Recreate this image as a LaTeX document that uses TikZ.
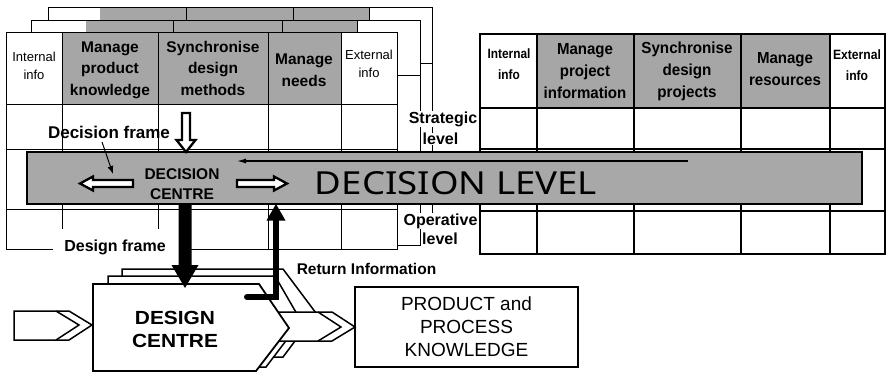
\documentclass[tikz,border=0pt]{standalone}
\usepackage{fontspec}
\usepackage{graphicx}
\setmainfont{Liberation Sans}
\newfontfamily\decfont{Noto Sans}
\usetikzlibrary{arrows.meta}
\definecolor{hdrgray}{HTML}{A6A6A6}
\definecolor{bargray}{HTML}{A8A8A8}
\newcommand\sqz[2]{\scalebox{#1}[1]{\begin{tabular}{@{}c@{}}#2\end{tabular}}}
\begin{document}
\begin{tikzpicture}[x=1pt,y=-1pt,
  fline/.style={draw=black, line width=0.8pt},
  tline/.style={draw=black, line width=1.6pt},
  hdr/.style={font=\bfseries\fontsize{15.5}{21.5}\selectfont, align=center, inner sep=0pt},
  sml/.style={font=\fontsize{13}{18}\selectfont, align=center, inner sep=0pt},
  rhdr/.style={font=\bfseries\fontsize{16}{22}\selectfont, inner sep=0pt},
  rsml/.style={font=\bfseries\fontsize{13.5}{20.5}\selectfont, inner sep=0pt},
  lvl/.style={font=\bfseries\fontsize{16}{18}\selectfont, fill=white, inner sep=0.6pt},
  blk/.style={fill=white, draw=black, line width=2.3pt, line join=miter},
  dshape/.style={fill=white, draw=black, line width=1.5pt, line join=miter},
  lbl/.style={font=\bfseries\fontsize{16}{20}\selectfont, inner sep=0pt},
]
\useasboundingbox (0,0) rectangle (886,373);

% ---- back frame 3
\fill[white] (48,7) rectangle (432,220);
\fill[hdrgray] (100,7) rectangle (369,63);
\draw[fline] (48,7) rectangle (432,220);
\draw[fline] (48,63) -- (432,63) (186,7) -- (186,63) (293,7) -- (293,63) (369,7) -- (369,63);
% ---- back frame 2
\fill[white] (31,20) rectangle (420,245);
\fill[hdrgray] (86,20) rectangle (357,75);
\draw[fline] (31,20) rectangle (420,245);
\draw[fline] (31,75) -- (420,75) (173,20) -- (173,75) (282,20) -- (282,75) (357,20) -- (357,75);
% ---- front frame (design frame)
\fill[white] (6,32) rectangle (397,249);
\fill[hdrgray] (62,32) rectangle (341,104);
\draw[fline] (53,249) -- (6,249) -- (6,32) -- (397,32) -- (397,249) -- (180,249);
\draw[fline] (6,104) -- (397,104) (6,149) -- (397,149) (6,209) -- (397,209);
\draw[fline] (62,32) -- (62,229) (158,32) -- (158,229) (268,32) -- (268,249) (341,32) -- (341,249);

\node[sml] (li) at (34,66) {Internal\\info};
\node[hdr] (lm) at (110,70) {Manage\\product\\knowledge};
\node[hdr] (ls) at (213,68) {Synchronise\\design\\methods};
\node[hdr] (ln) at (304,70) {Manage\\needs};
\node[sml] (le) at (369,64) {External\\info};

% ---- right table
\fill[hdrgray] (537,34) rectangle (830,108);
\draw[tline] (480,34) rectangle (885,254);
\foreach \yy in {108,149,211} \draw[tline] (480,\yy) -- (885,\yy);
\foreach \xx in {537,634,741,830} \draw[tline] (\xx,34) -- (\xx,254);

\node[rsml] (ri) at (509,65) {\sqz{0.88}{Internal\\info}};
\node[rhdr] (rm) at (585,72) {\sqz{0.94}{Manage\\project\\information}};
\node[rhdr] (rs) at (687,71) {\sqz{0.95}{Synchronise\\design\\projects}};
\node[rhdr] (rr) at (785,70.5) {\sqz{0.94}{Manage\\resources}};
\node[rsml] (re) at (857,66) {\sqz{0.9}{External\\info}};

% ---- level labels
\node[lvl] (st1) at (443,119) {Strategic};
\node[lvl] (st2) at (440.5,139) {level};
\node[lvl] (op1) at (440.5,221) {Operative};
\node[lvl] (op2) at (440,239) {level};

% ---- decision bar
\filldraw[fill=bargray, draw=black, line width=1.1pt] (27,152) rectangle (862,204);
\draw[line width=1.6pt] (862,152) -- (862,204) -- (27,204);
\coordinate (la1) at (688,161);
\coordinate (la2) at (237,161);
\draw[line width=1.1pt, -{Latex[length=9pt,width=5pt]}] (la1) -- (la2);

\node[inner sep=0pt] (declevel) at (456,183.5) {\resizebox{282pt}{23pt}{\decfont DECISION LEVEL}};
\node[font=\bfseries\fontsize{15.5}{20}\selectfont, align=center, inner sep=0pt] (dc) at (182,184) {DECISION\\CENTRE};

% white block arrows in bar
\draw[blk] (133,180) -- (93,180) -- (93,176.5) -- (80,183.5) -- (93,190.5) -- (93,187) -- (133,187) -- cycle;
\draw[blk] (237,180) -- (274,180) -- (274,176.5) -- (287,183.5) -- (274,190.5) -- (274,187) -- (237,187) -- cycle;
% white down arrow
\draw[blk] (182,113) -- (190,113) -- (190,140) -- (195.5,140) -- (186,152) -- (176.5,140) -- (182,140) -- cycle;

% decision frame label and arrow
\node[font=\bfseries\fontsize{17}{20}\selectfont, inner sep=0pt] (dframe) at (109,132.5) {Decision frame};
\coordinate (df1) at (102,142);
\coordinate (df2) at (113,174);
\draw[line width=1pt, -{Latex[length=8pt,width=6pt]}] (df1) -- (df2);

% design frame label
\node[lbl] (dsgnframe) at (115,247.5) {Design frame};

% ---- design centre stack
\draw[dshape] (122,269) -- (283,269) -- (316,313) -- (283,357) -- (122,357) -- cycle;
\draw[dshape] (108,276) -- (275,276) -- (301,321) -- (266,367) -- (108,367) -- cycle;
% output chevron
\draw[dshape] (270,312) -- (332,312) -- (355,327) -- (332,341) -- (270,341) -- cycle;
\draw[line width=1.5pt] (318,312) -- (341,327) -- (318,341);
% input chevron
\draw[dshape] (14,311) -- (69,311) -- (92,325) -- (69,340) -- (14,340) -- cycle;
\draw[line width=1.5pt] (56,311) -- (79,325) -- (56,340);
% front shape
\draw[dshape, line width=1.8pt] (93,284) -- (259,284) -- (289,328) -- (256,371) -- (93,371) -- cycle;
\node[font=\bfseries\fontsize{19}{23}\selectfont, inner sep=0pt] (dsc) at (175,331) {\sqz{1.1}{DESIGN\\CENTRE}};

% black down arrow
\fill[black] (178.5,204) -- (191.5,204) -- (191.5,265) -- (198.5,265) -- (185,288) -- (171.5,265) -- (178.5,265) -- cycle;

% return information arrow
\draw[line width=6pt, line cap=round, line join=miter] (247,297) -- (276,297) -- (276,219);
\fill[black] (266.5,220.5) -- (285.5,220.5) -- (276,204) -- cycle;
\node[font=\bfseries\fontsize{15.5}{18}\selectfont, inner sep=0pt] (ret) at (366.5,269) {Return Information};

% product and process knowledge
\node[draw, line width=1.5pt, minimum width=223pt, minimum height=80pt, inner sep=0pt,
      font=\fontsize{19}{23}\selectfont, align=center] (pk) at (466.5,327) {PRODUCT and\\PROCESS\\KNOWLEDGE};
\end{tikzpicture}
\end{document}
